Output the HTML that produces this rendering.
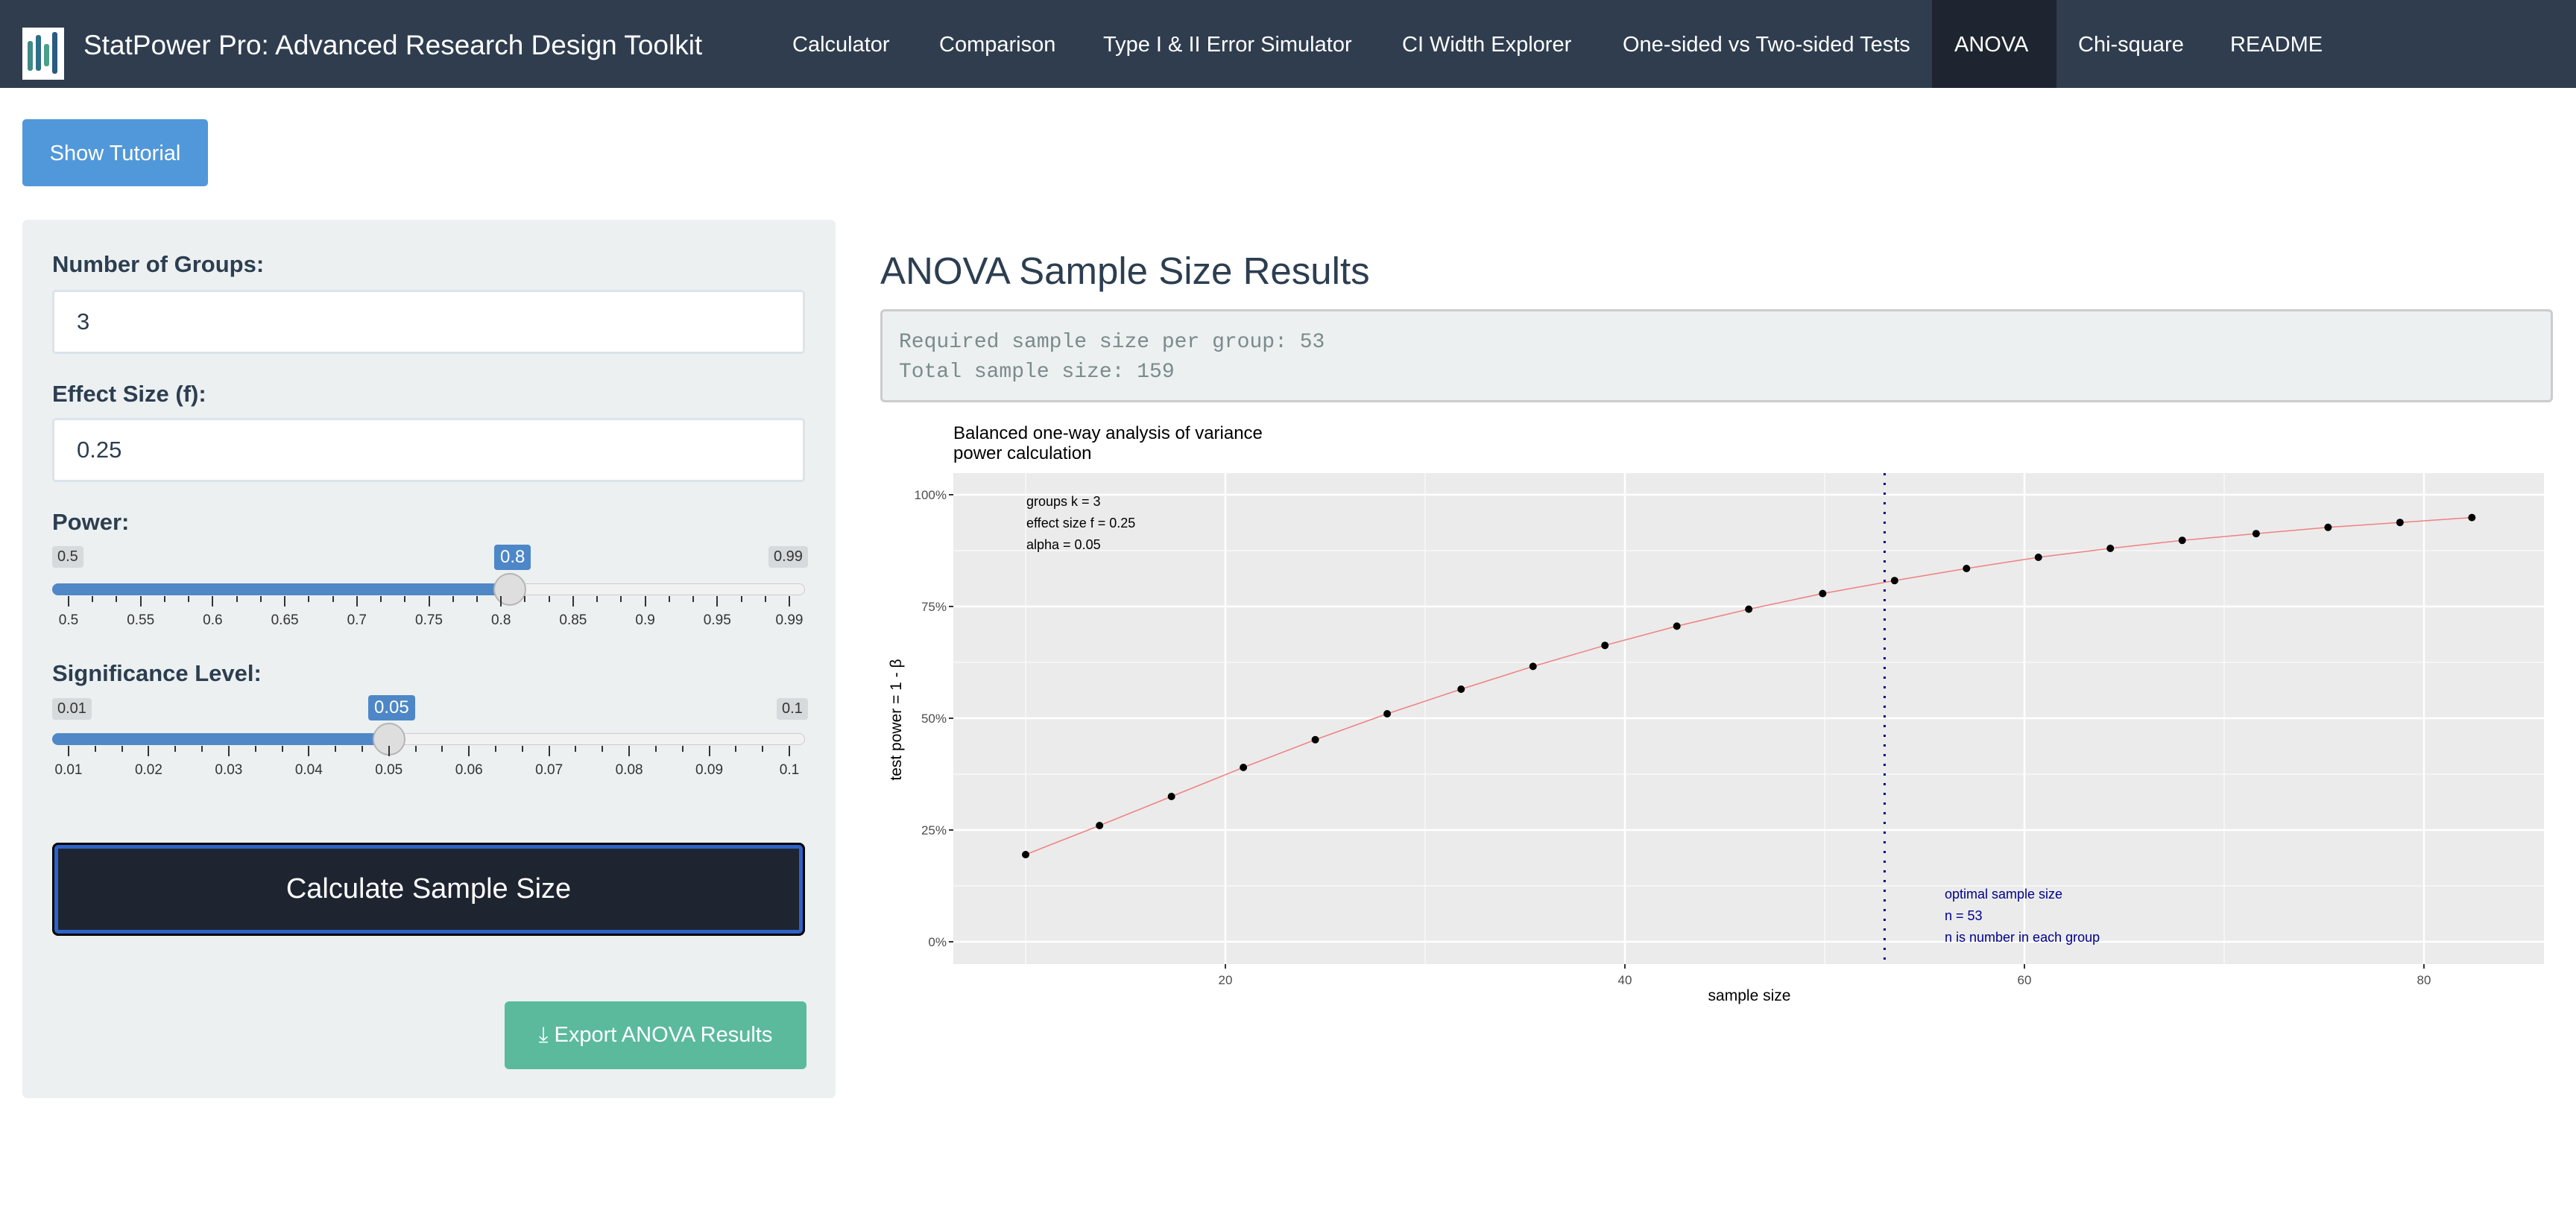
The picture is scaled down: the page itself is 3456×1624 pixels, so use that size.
<!DOCTYPE html>
<html><head><meta charset="utf-8">
<style>
*{box-sizing:border-box;margin:0;padding:0}
body{width:3456px;height:1624px;background:#fff;font-family:"Liberation Sans",sans-serif;position:relative;overflow:hidden;color:#2c3e50}
.abs{position:absolute}
.nav{left:0;top:0;width:3456px;height:118px;background:#2f3d4f}
.navi{position:absolute;top:44px;color:#fff;font-size:29px;white-space:nowrap}
.lbl{position:absolute;left:70px;font-size:31px;font-weight:bold;color:#2c3e50}
.inp{position:absolute;left:70px;width:1010px;background:#fff;border:3px solid #dde3ea;border-radius:5px;font-size:31px;padding-left:30px;display:flex;align-items:center}
.tag{position:absolute;font-size:20px;background:#d7dadd;color:#333;padding:3px 7px;border-radius:4px}
.tagb{position:absolute;font-size:24px;background:#4d87c7;color:#fff;padding:3px 8px;border-radius:4px}
.track{position:absolute;left:70px;width:1010px;height:16px;border-radius:8px;background:#f1f1f1;border:1px solid #ccc}
.fill{position:absolute;left:70px;height:16px;border-radius:8px 0 0 8px;background:#4f87c7}
.handle{position:absolute;width:44px;height:44px;border-radius:50%;background:#dedede;border:2px solid #b5b5b5}
.tick{position:absolute;width:2px;background:#333}
.tl{position:absolute;font-size:19px;color:#333;transform:translateX(-50%)}
</style></head><body>
<div class="abs nav">
  <svg class="abs" style="left:30px;top:37px" width="56" height="70">
    <rect width="56" height="70" fill="#fff"/>
    <rect x="7" y="18" width="7" height="40" rx="3" fill="#3f8a86"/>
    <rect x="18" y="10" width="7" height="48" rx="3" fill="#2d6f86"/>
    <rect x="29" y="22" width="7" height="30" rx="3" fill="#4aa089"/>
    <rect x="40" y="6" width="7" height="56" rx="3" fill="#2a5b80"/>
  </svg>
  <div class="navi" style="left:112px;top:40px;font-size:37px">StatPower Pro: Advanced Research Design Toolkit</div>
  <div class="navi" style="left:1063px">Calculator</div>
  <div class="navi" style="left:1260px">Comparison</div>
  <div class="navi" style="left:1480px">Type I &amp; II Error Simulator</div>
  <div class="navi" style="left:1881px">CI Width Explorer</div>
  <div class="navi" style="left:2177px">One-sided vs Two-sided Tests</div>
  <div class="abs" style="left:2592px;top:0;width:167px;height:118px;background:#1e2530"></div>
  <div class="navi" style="left:2622px">ANOVA</div>
  <div class="navi" style="left:2788px">Chi-square</div>
  <div class="navi" style="left:2992px">README</div>
</div>

<div class="abs" style="left:30px;top:160px;width:249px;height:90px;background:#5198da;border-radius:5px;color:#fff;font-size:29px;display:flex;align-items:center;justify-content:center;padding-top:3px">Show Tutorial</div>

<div class="abs" style="left:30px;top:295px;width:1091px;height:1179px;background:#ecf0f1;border-radius:7px"></div>
<div class="lbl" style="top:337px">Number of Groups:</div>
<div class="inp" style="top:389px;height:86px">3</div>
<div class="lbl" style="top:511px">Effect Size (f):</div>
<div class="inp" style="top:561px;height:86px">0.25</div>
<div class="lbl" style="top:683px">Power:</div>
<div class="tag" style="left:70px;top:733px">0.5</div>
<div class="tag" style="left:1031px;top:733px">0.99</div>
<div class="tagb" style="left:663px;top:731px">0.8</div>
<div class="track" style="top:783px"></div>
<div class="fill" style="top:783px;width:614px"></div>
<div class="handle" style="left:662px;top:769px"></div>
<div id="pt"></div>
<div class="lbl" style="top:886px">Significance Level:</div>
<div class="tag" style="left:70px;top:937px">0.01</div>
<div class="tag" style="left:1042px;top:937px">0.1</div>
<div class="tagb" style="left:494px;top:933px">0.05</div>
<div class="track" style="top:984px"></div>
<div class="fill" style="top:984px;width:452px"></div>
<div class="handle" style="left:500px;top:970px"></div>
<div id="at"></div>

<div class="abs" style="left:70px;top:1131px;width:1010px;height:125px;background:#1e2430;border:3px solid #000;border-radius:8px;box-shadow:inset 0 0 0 5px #2d62c8;color:#fff;font-size:38px;display:flex;align-items:center;justify-content:center">Calculate Sample Size</div>
<div class="abs" style="left:677px;top:1344px;width:405px;height:91px;background:#5bba9c;border-radius:6px;color:#fff;font-size:29px;display:flex;align-items:center;justify-content:center">⤓ Export ANOVA Results</div>

<div class="abs" style="left:1181px;top:334px;font-size:51px;color:#2c3e50">ANOVA Sample Size Results</div>
<div class="abs" style="left:1181px;top:415px;width:2244px;height:125px;background:#ecf0f1;border:3px solid #ccc;border-radius:6px;font-family:'Liberation Mono',monospace;font-size:28px;color:#7b8a8b;padding:22px 0 0 22px;line-height:40px">Required sample size per group: 53<br>Total sample size: 159</div>

<svg class="abs" style="left:0;top:0" width="3456" height="1624" id="chart"></svg>

<script>
const sampleSizes=[10.0,13.7,17.3,20.9,24.5,28.1,31.8,35.4,39.0,42.6,46.2,49.9,53.5,57.1,60.7,64.3,67.9,71.6,75.2,78.8,82.4];
const powerValues=[0.195,0.260,0.325,0.390,0.452,0.510,0.565,0.616,0.663,0.706,0.744,0.779,0.808,0.835,0.860,0.880,0.898,0.913,0.927,0.938,0.949];
const xTicks=[20,40,60,80];
const yTicks=[0,0.25,0.5,0.75,1];
const yTickLabels=["0%","25%","50%","75%","100%"];
const optimalN=53;
const infoLines=["groups k = 3","effect size f = 0.25","alpha = 0.05"];
const optLines=["optimal sample size","n = 53","n is number in each group"];
const powerSliderTicks=["0.5","0.55","0.6","0.65","0.7","0.75","0.8","0.85","0.9","0.95","0.99"];
const alphaSliderTicks=["0.01","0.02","0.03","0.04","0.05","0.06","0.07","0.08","0.09","0.1"];

const NS="http://www.w3.org/2000/svg";
const svg=document.getElementById('chart');
const PL=1279,PR=3413,PT=635,PB=1294;
const X=v=>1644+(v-20)*26.8;
const Y=p=>1264-p*600;
function mk(tag,attrs,parent){const e=document.createElementNS(NS,tag);for(const k in attrs)e.setAttribute(k,attrs[k]);(parent||svg).appendChild(e);return e;}
const bg=mk('rect',{x:PL,y:PT,width:PR-PL,height:PB-PT,fill:'#ebebeb'});


for(let i=0;i<xTicks.length;i++){const m=xTicks[i]-10;const g=mk('line',{x1:X(m),x2:X(m),y1:PT,y2:PB,stroke:'#fff','stroke-width':1});

}
for(let i=0;i<yTicks.length-1;i++){const m=(yTicks[i]+yTicks[i+1])/2;const g=mk('line',{x1:PL,x2:PR,y1:Y(m),y2:Y(m),stroke:'#fff','stroke-width':1});

}
xTicks.forEach(v=>{const g=mk('line',{x1:X(v),x2:X(v),y1:PT,y2:PB,stroke:'#fff','stroke-width':2.5});


mk('line',{x1:X(v),x2:X(v),y1:PB,y2:PB+6,stroke:'#333','stroke-width':2});
const t=mk('text',{x:X(v),y:PB+27,'font-size':17,fill:'#4d4d4d','text-anchor':'middle'});t.textContent=v;

});
yTicks.forEach((v,i)=>{const g=mk('line',{x1:PL,x2:PR,y1:Y(v),y2:Y(v),stroke:'#fff','stroke-width':2.5});


mk('line',{x1:PL-6,x2:PL,y1:Y(v),y2:Y(v),stroke:'#333','stroke-width':2});
const t=mk('text',{x:PL-9,y:Y(v)+6,'font-size':17,fill:'#4d4d4d','text-anchor':'end'});t.textContent=yTickLabels[i];

});
const line=mk('polyline',{points:sampleSizes.map((n,i)=>X(n)+','+Y(powerValues[i])).join(' '),fill:'none',stroke:'#f08080','stroke-width':1.5});


sampleSizes.forEach((n,i)=>{const c=mk('circle',{cx:X(n),cy:Y(powerValues[i]),r:5,fill:'#000'});

});
const vl=mk('line',{x1:X(optimalN),x2:X(optimalN),y1:PT,y2:PB,stroke:'#00008b','stroke-width':3,'stroke-dasharray':'3,10'});


infoLines.forEach((s,i)=>{const t=mk('text',{x:1377,y:679+i*29,'font-size':18,fill:'#000'});t.textContent=s;

});
optLines.forEach((s,i)=>{const t=mk('text',{x:2609,y:1206+i*29,'font-size':18,fill:'#00008b'});t.textContent=s;

});
const t1=mk('text',{x:1279,y:589,'font-size':24,fill:'#000'});t1.textContent='Balanced one-way analysis of variance';


const t2=mk('text',{x:1279,y:616,'font-size':24,fill:'#000'});t2.textContent='power calculation';


const xt=mk('text',{x:2347,y:1343,'font-size':21,fill:'#000','text-anchor':'middle'});xt.textContent='sample size';


const yt=mk('text',{x:1209,y:966,'font-size':21,fill:'#000','text-anchor':'middle',transform:'rotate(-90 1209 966)'});yt.textContent='test power = 1 - β';



function sliderTicks(id,labels,top){const host=document.getElementById(id);const x0=92,x1=1059;const n=labels.length;
const step=(x1-x0)/(n-1);
labels.forEach((s,i)=>{const x=x0+i*step;
const tk=document.createElement('div');tk.className='tick';tk.style.left=(x-1)+'px';tk.style.top=top+'px';tk.style.height='14px';


host.appendChild(tk);
const l=document.createElement('div');l.className='tl';l.style.left=x+'px';l.style.top=(top+22)+'px';l.textContent=s;


host.appendChild(l);
if(i<n-1)for(let k=1;k<3;k++){const m=document.createElement('div');m.className='tick';m.style.left=(x+k*step/3-1)+'px';m.style.top=top+'px';m.style.height='8px';


host.appendChild(m);}});}
sliderTicks('pt',powerSliderTicks,800);
sliderTicks('at',alphaSliderTicks,1001);
</script>
</body></html>
